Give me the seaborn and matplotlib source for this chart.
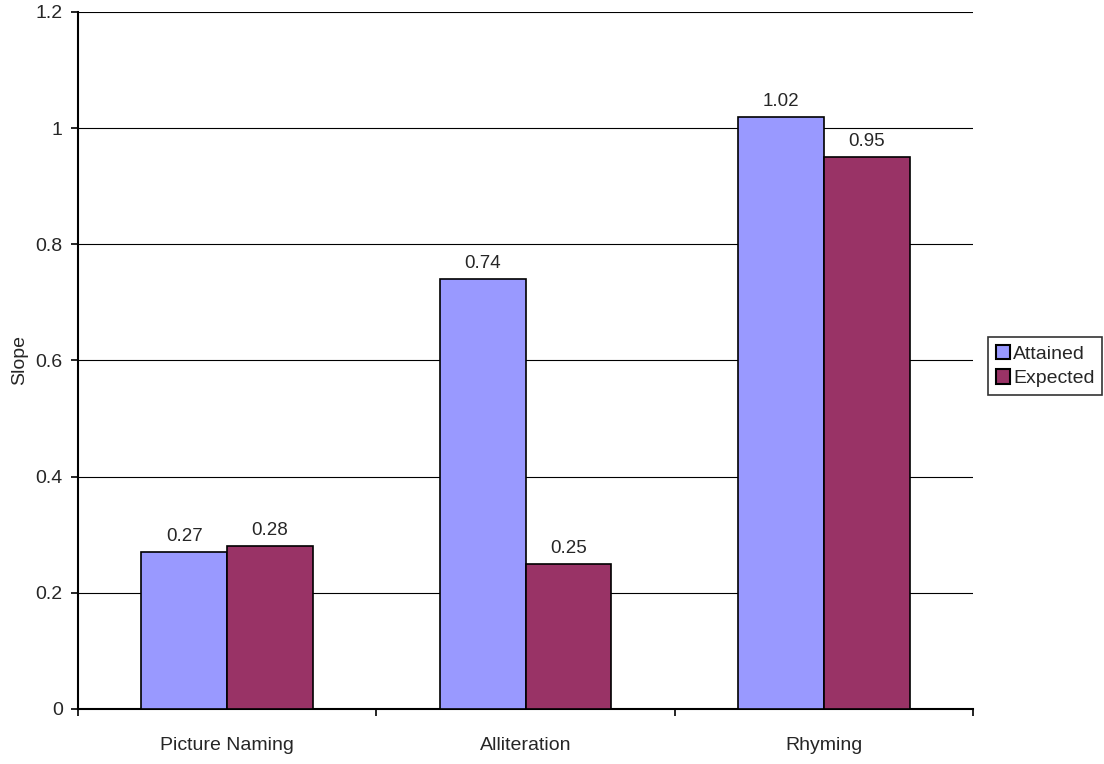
import matplotlib
matplotlib.use("Agg")
import matplotlib.pyplot as plt
import seaborn as sns
import pandas as pd
from matplotlib.ticker import FixedLocator

categories = ["Picture Naming", "Alliteration", "Rhyming"]
attained = [0.27, 0.74, 1.02]
expected = [0.28, 0.25, 0.95]
series = ["Attained", "Expected"]
colors = ["#9999FF", "#993366"]
yticks = [0, 0.2, 0.4, 0.6, 0.8, 1.0, 1.2]
ytick_labels = ["0", "0.2", "0.4", "0.6", "0.8", "1", "1.2"]

df = pd.DataFrame({
    "Category": categories * 2,
    "Series": [series[0]] * 3 + [series[1]] * 3,
    "Slope": attained + expected,
})

sns.set_style("white")
plt.rcParams["font.family"] = ["Liberation Sans", "DejaVu Sans"]

fig = plt.figure(figsize=(11.04, 7.64), dpi=100)
ax = fig.add_axes([0.0707, 0.072, 0.8106, 0.9123])

sns.barplot(data=df, x="Category", y="Slope", hue="Series", order=categories,
            hue_order=series, palette=colors, width=0.575, gap=0,
            edgecolor="black", linewidth=1.2, saturation=1, ax=ax, zorder=3)

for cont in ax.containers:
    ax.bar_label(cont, fmt="%.2f", padding=5, fontsize=13.5)

ax.set_xlim(-0.5, 2.5)
ax.set_yticks(yticks)
ax.set_yticklabels(ytick_labels)
ax.set_ylim(0, 1.2)
ax.grid(axis="y", color="black", linewidth=0.8, zorder=0)
ax.set_axisbelow(True)

for s in ["top", "right"]:
    ax.spines[s].set_visible(False)
for s in ["left", "bottom"]:
    ax.spines[s].set_color("black")
    ax.spines[s].set_linewidth(1.5)

ax.xaxis.set_minor_locator(FixedLocator([-0.5, 0.5, 1.5, 2.5]))
ax.tick_params(axis="x", which="major", length=0, pad=20, labelsize=14)
ax.tick_params(axis="x", which="minor", length=5, width=1.2, color="black", direction="out", bottom=True)
ax.tick_params(axis="y", which="major", length=5, width=1.2, color="black", direction="out", left=True, labelsize=14, pad=6)

ax.set_xlabel("")
ax.set_ylabel("Slope", fontsize=14, labelpad=5)

leg = ax.legend(loc="center left", bbox_to_anchor=(1.017, 0.492), frameon=True,
                fontsize=14, handlelength=0.75, handleheight=0.75, handletextpad=0.15,
                borderpad=0.38, labelspacing=0.35, fancybox=False, borderaxespad=0)
leg.get_frame().set_edgecolor("black")
leg.get_frame().set_linewidth(1.2)
for h in leg.legend_handles:
    h.set_edgecolor("black")
    h.set_linewidth(1.5)

fig.savefig("out.png", dpi=100)
